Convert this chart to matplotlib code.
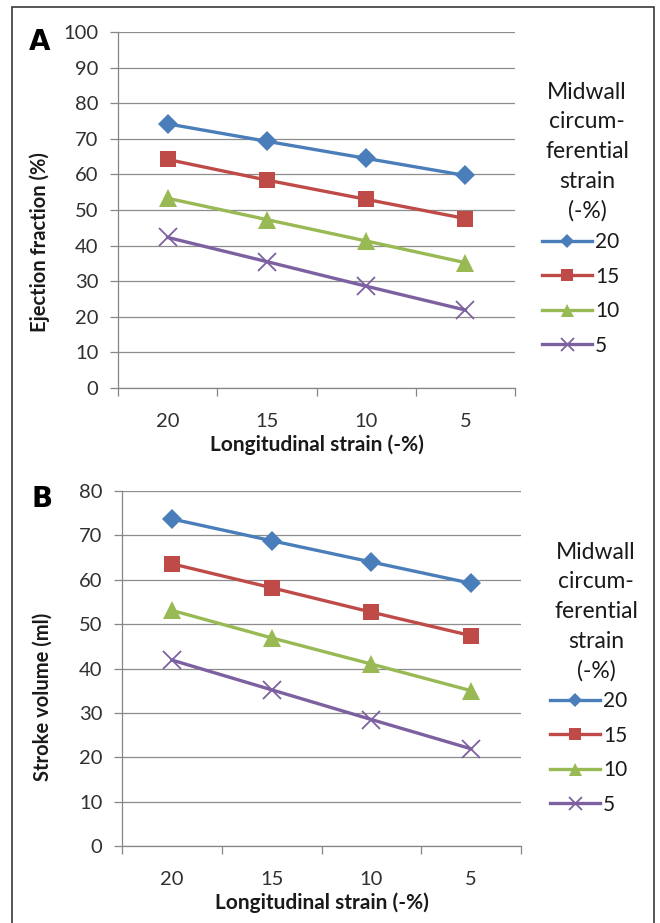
import matplotlib
matplotlib.use('Agg')
import matplotlib.pyplot as plt
from matplotlib.patches import Rectangle

plt.rcParams['font.family'] = ['Lato', 'DejaVu Sans']

# categories on the x axis (longitudinal strain, -%)
long_strain = ['20', '15', '10', '5']
# legend series (midwall circumferential strain, -%)
circ_strain = ['20', '15', '10', '5']

# panel A: ejection fraction (%)
ef_20 = [74.2, 69.3, 64.5, 59.7]
ef_15 = [64.2, 58.4, 53.0, 47.6]
ef_10 = [53.3, 47.3, 41.3, 35.2]
ef_5 = [42.3, 35.5, 28.6, 21.9]

# panel B: stroke volume (ml)
sv_20 = [73.7, 68.8, 64.0, 59.2]
sv_15 = [63.6, 58.2, 52.7, 47.4]
sv_10 = [53.1, 46.9, 41.0, 35.0]
sv_5 = [41.9, 35.2, 28.5, 21.9]

colors = ['#4A7EBB', '#BE4B48', '#98B954', '#7D60A0']
markers = ['D', 's', '^', 'x']
msizes = [10, 12, 13, 13]

fig = plt.figure(figsize=(6.6, 9.23), dpi=100)

# outer frame (open at the bottom)
fig.patches.append(Rectangle((12 / 660, -0.02), 642 / 660, 0.02 + 916 / 923,
                             transform=fig.transFigure, fill=False,
                             edgecolor='#3a3a3a', linewidth=1.2))


def panel(rect, series, ymax, ylabel, letter, letter_pos, label_coords, leg_anchor, title_pos):
    ax = fig.add_axes(rect)
    x = list(range(len(long_strain)))
    for vals, c, m, ms, lab in zip(series, colors, markers, msizes, circ_strain):
        if m == 'x':
            ax.plot(x, vals, color=c, linewidth=2.4, marker=m, markersize=ms,
                    markeredgewidth=1.3, label=lab, zorder=3)
        else:
            ax.plot(x, vals, color=c, linewidth=2.4, marker=m, markersize=ms,
                    markeredgewidth=0, label=lab, zorder=3)
    ax.set_xlim(-0.5, len(x) - 0.5)
    ax.set_ylim(0, ymax)
    ax.set_yticks(range(0, ymax + 1, 10))
    ax.grid(axis='y', color='#8c8c8c', linewidth=0.9)
    ax.set_axisbelow(True)
    # category boundary ticks, labels at the centres
    ax.set_xticks([i - 0.5 for i in range(len(x) + 1)])
    ax.set_xticklabels([])
    ax.set_xticks(x, minor=True)
    ax.set_xticklabels(long_strain, minor=True)
    ax.tick_params(axis='x', which='major', length=6, color='#868686', width=0.9)
    ax.tick_params(axis='x', which='minor', length=0, pad=18, labelsize=14.5, labelcolor='#303030')
    ax.tick_params(axis='y', length=6, color='#868686', width=0.9, pad=8,
                   labelsize=14.5, labelcolor='#303030')
    for s in ['top', 'right']:
        ax.spines[s].set_visible(False)
    for s in ['left', 'bottom']:
        ax.spines[s].set_color('#868686')
        ax.spines[s].set_linewidth(0.9)
    ax.set_ylabel(ylabel, fontsize=14.5, fontweight='bold', color='#1a1a1a')
    ax.yaxis.set_label_coords(*label_coords)
    ax.set_xlabel('Longitudinal strain (-%)', fontsize=15, fontweight='bold',
                  color='#1a1a1a', labelpad=3)
    fig.text(letter_pos[0] / 660, 1 - letter_pos[1] / 923, letter, fontsize=20,
             fontweight='bold', family='DejaVu Sans', va='center', ha='center')
    fig.text(title_pos[0] / 660, 1 - title_pos[1] / 923,
             'Midwall\ncircum-\nferential\nstrain\n(-%)', fontsize=16.5,
             ha='center', va='top', linespacing=1.5, color='#1a1a1a')
    leg = ax.legend(loc='upper left', bbox_to_anchor=(leg_anchor[0] / 660, 1 - leg_anchor[1] / 923),
                    bbox_transform=fig.transFigure, frameon=False, fontsize=15,
                    handlelength=2.4, handletextpad=0.15, labelspacing=0.7,
                    markerscale=0.72, borderaxespad=0, borderpad=0)
    for t in leg.get_texts():
        t.set_color('#1a1a1a')
    return ax


panel([118 / 660, 1 - 388 / 923, 397 / 660, 356 / 923],
      [ef_20, ef_15, ef_10, ef_5], 100, 'Ejection fraction (%)', 'A', (40, 42),
      (-0.171, 0.41), (542, 232), (587, 82))
panel([122 / 660, 1 - 846 / 923, 399 / 660, 355 / 923],
      [sv_20, sv_15, sv_10, sv_5], 80, 'Stroke volume (ml)', 'B', (42, 499),
      (-0.175, 0.42), (550, 691), (596, 542))

fig.savefig('out.png', dpi=100)
